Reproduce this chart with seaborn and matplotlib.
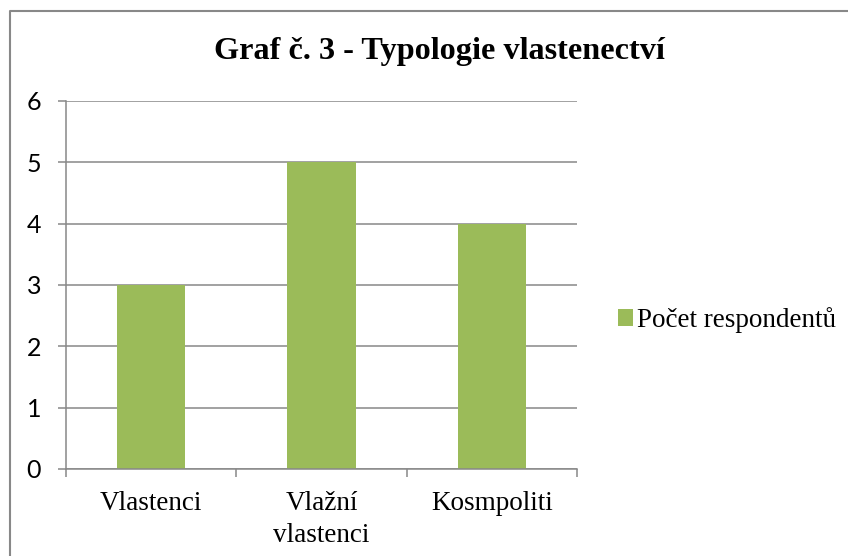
"""Graf č. 3 - Typologie vlastenectví (sloupcový graf)."""

import matplotlib.pyplot as plt
import pandas as pd
import seaborn as sns
from matplotlib.lines import Line2D

categories = ["Vlastenci", "Vlažní\nvlastenci", "Kosmpoliti"]
values = [3, 5, 4]
series_name = "Počet respondentů"
y_ticks = [0, 1, 2, 3, 4, 5, 6]

BAR_COLOR = "#9BBB59"
GRID_COLOR = "#888888"
SERIF = "Liberation Serif"

sns.set_theme(style="white")
plt.rcParams["font.family"] = ["Liberation Serif", "DejaVu Sans"]
plt.rcParams["text.color"] = "black"
plt.rcParams["xtick.color"] = "black"
plt.rcParams["ytick.color"] = "black"

df = pd.DataFrame({"kategorie": categories, "pocet": values})

W, H = 848, 556
fig = plt.figure(figsize=(W / 100, H / 100), dpi=100)
ax = fig.add_axes([66 / W, 1 - 469 / H, (577 - 66) / W, (469 - 101) / H])

sns.barplot(
    data=df,
    x="kategorie",
    y="pocet",
    color=BAR_COLOR,
    saturation=1,
    width=0.4,
    linewidth=0,
    label=series_name,
    ax=ax,
)

# osy a mřížka ve stylu Excelu
ax.set_xlim(-0.5, len(categories) - 0.5)
ax.set_ylim(0, 6)
ax.set_yticks(y_ticks)
ax.set_axisbelow(True)
ax.yaxis.grid(True, color=GRID_COLOR, linewidth=1.1)
ax.xaxis.grid(False)
for side in ("top", "right"):
    ax.spines[side].set_visible(False)
for side in ("left", "bottom"):
    ax.spines[side].set_color(GRID_COLOR)
    ax.spines[side].set_linewidth(1.1)

ax.set_xlabel("")
ax.set_ylabel("")
ax.tick_params(axis="y", length=6, width=1.1, color=GRID_COLOR, pad=12,
               labelsize=18, labelcolor="black", left=True)
for lbl in ax.get_yticklabels():
    lbl.set_family(["Lato", "DejaVu Sans"])

ax.set_xticks([i - 0.5 for i in range(len(categories) + 1)], minor=True)
ax.tick_params(axis="x", which="minor", length=6, width=1.1, color=GRID_COLOR,
               bottom=True, direction="out")
ax.tick_params(axis="x", which="major", length=0, pad=16, labelsize=19.5,
               labelcolor="black")
for lbl in ax.get_xticklabels():
    lbl.set_family(SERIF)
    lbl.set_linespacing(1.35)

leg = ax.legend(
    loc="center left",
    bbox_to_anchor=(1.033, 0.405),
    frameon=False,
    prop={"family": SERIF, "size": 19.5},
    handlelength=0.55,
    handleheight=0.55,
    handletextpad=0.15,
)
for txt in leg.get_texts():
    txt.set_color("black")

fig.text(439 / W, 1 - 52 / H, "Graf č. 3 - Typologie vlastenectví",
         ha="center", va="center", fontsize=23.2, fontweight="bold",
         family=SERIF, color="black")

# rámeček grafu (jen levá a horní hrana jsou v záběru)
x0, y0 = 9.5 / W, 1 - 10.5 / H
fig.add_artist(Line2D([x0, x0, 1.0], [0.0, y0, y0], transform=fig.transFigure,
                      color=GRID_COLOR, linewidth=1.5))

fig.savefig("out.png", dpi=100, facecolor="white")
